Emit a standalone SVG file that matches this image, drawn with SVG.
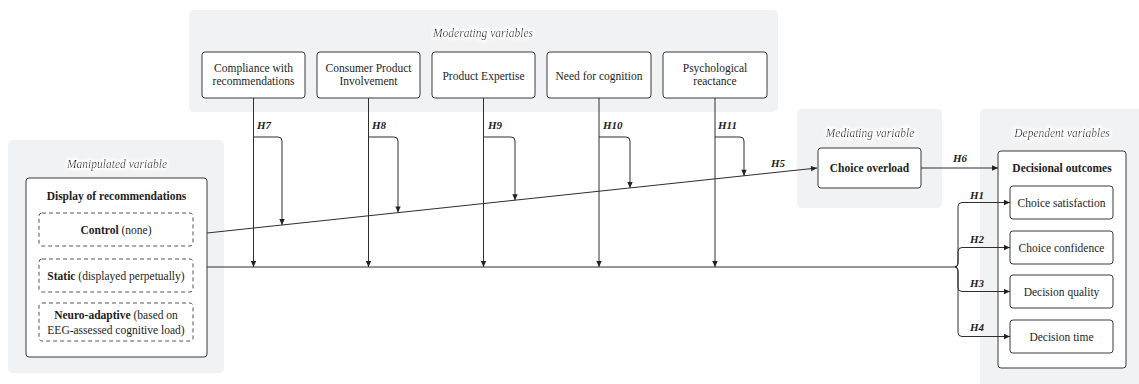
<svg xmlns="http://www.w3.org/2000/svg" width="1139" height="384" viewBox="0 0 1139 384" font-family="'Liberation Serif', 'Times New Roman', serif">
  <defs>
    <style>
      .panel { fill: #f1f2f4; }
      .box { fill: #fff; stroke: #3a3a3a; stroke-width: 1; }
      .dash { fill: #fff; stroke: #555; stroke-width: 1; stroke-dasharray: 4 3; }
      .t { font-family: 'Liberation Serif', 'Times New Roman', serif; font-size: 11.5px; fill: #1e1e1e; text-anchor: middle; }
      .b { font-weight: bold; }
      .cap { font-family: 'Liberation Serif', 'Times New Roman', serif; font-size: 11.5px; font-style: italic; fill: #1e1e1e; text-anchor: middle; }
      .h { font-family: 'Liberation Serif', 'Times New Roman', serif; font-size: 11px; font-style: italic; font-weight: bold; fill: #1e1e1e; }
      .edge { fill: none; stroke: #2e2e2e; stroke-width: 1; }
    </style>
    <marker id="arr" viewBox="0 0 10 10" refX="10" refY="5" markerWidth="7" markerHeight="6" orient="auto" markerUnits="userSpaceOnUse">
      <path d="M0,0.5 L10,5 L0,9.5 z" fill="#222"/>
    </marker>
    <filter id="halo" x="-10%" y="-50%" width="120%" height="200%">
      <feMorphology in="SourceAlpha" operator="dilate" radius="1.5" result="d"/>
      <feGaussianBlur in="d" stdDeviation="1.6" result="bl"/>
      <feFlood flood-color="#fff" result="w"/>
      <feComposite in="w" in2="bl" operator="in" result="hl"/>
      <feMerge><feMergeNode in="hl"/><feMergeNode in="SourceGraphic"/></feMerge>
    </filter>
  </defs>

  <!-- group backgrounds -->
  <g id="panels">
    <rect class="panel" x="189" y="10" width="589" height="102" rx="5"/>
    <rect class="panel" x="8" y="140" width="216" height="233" rx="5"/>
    <rect class="panel" x="797" y="109" width="145" height="99" rx="5"/>
    <rect class="panel" x="980" y="109" width="170" height="290" rx="5"/>
    <text class="cap" x="483" y="37" filter="url(#halo)">Moderating variables</text>
    <text class="cap" x="117" y="168" filter="url(#halo)">Manipulated variable</text>
    <text class="cap" x="870" y="137" filter="url(#halo)">Mediating variable</text>
    <text class="cap" x="1062" y="137" filter="url(#halo)">Dependent variables</text>
  </g>

  <!-- moderators -->
  <g id="compliance">
    <rect class="box" x="202" y="52" width="103" height="46" rx="3"/>
    <text class="t" x="253.5" y="72">Compliance with</text>
    <text class="t" x="253.5" y="85">recommendations</text>
  </g>
  <g id="involvement">
    <rect class="box" x="317" y="52" width="103" height="46" rx="3"/>
    <text class="t" x="368.5" y="72">Consumer Product</text>
    <text class="t" x="368.5" y="85">Involvement</text>
  </g>
  <g id="expertise">
    <rect class="box" x="432" y="52" width="103" height="46" rx="3"/>
    <text class="t" x="483.5" y="79.5">Product Expertise</text>
  </g>
  <g id="cognition">
    <rect class="box" x="547" y="52" width="104" height="46" rx="3"/>
    <text class="t" x="599" y="79.5">Need for cognition</text>
  </g>
  <g id="reactance">
    <rect class="box" x="663" y="52" width="104" height="46" rx="3"/>
    <text class="t" x="715" y="72">Psychological</text>
    <text class="t" x="715" y="85">reactance</text>
  </g>

  <!-- manipulated variable -->
  <g id="display">
    <rect class="box" x="26" y="178" width="181" height="179" rx="3"/>
    <text class="t b" x="116.5" y="200">Display of recommendations</text>
  </g>
  <g id="control">
    <rect class="dash" x="39" y="213" width="154" height="33" rx="3"/>
    <text class="t" x="116" y="234"><tspan class="b">Control</tspan> (none)</text>
  </g>
  <g id="static">
    <rect class="dash" x="39" y="259" width="154" height="33" rx="3"/>
    <text class="t" x="116" y="280"><tspan class="b">Static</tspan> (displayed perpetually)</text>
  </g>
  <g id="adaptive">
    <rect class="dash" x="39" y="303" width="154" height="38" rx="3"/>
    <text class="t" x="116" y="319"><tspan class="b">Neuro-adaptive</tspan> (based on</text>
    <text class="t" x="116" y="334">EEG-assessed cognitive load)</text>
  </g>

  <!-- mediator -->
  <g id="overload">
    <rect class="box" x="818" y="148" width="103" height="40" rx="3"/>
    <text class="t b" x="869.5" y="172">Choice overload</text>
  </g>

  <!-- outcomes -->
  <g id="outcomes">
    <rect class="box" x="998" y="151" width="128" height="217" rx="3"/>
    <text class="t b" x="1062" y="172">Decisional outcomes</text>
  </g>
  <g id="satisfaction">
    <rect class="box" x="1010" y="186" width="103" height="33" rx="3"/>
    <text class="t" x="1061.5" y="206.5">Choice satisfaction</text>
  </g>
  <g id="confidence">
    <rect class="box" x="1010" y="231" width="103" height="33" rx="3"/>
    <text class="t" x="1061.5" y="251.5">Choice confidence</text>
  </g>
  <g id="quality">
    <rect class="box" x="1010" y="275" width="103" height="33" rx="3"/>
    <text class="t" x="1061.5" y="295.5">Decision quality</text>
  </g>
  <g id="time">
    <rect class="box" x="1010" y="320" width="103" height="33" rx="3"/>
    <text class="t" x="1061.5" y="340.5">Decision time</text>
  </g>

  <!-- connectors -->
  <g id="connectors">
    <!-- main paths -->
    <path class="edge" d="M207 233 L817 168" marker-end="url(#arr)"/>
    <path class="edge" d="M207 267 L955 267"/>
    <path class="edge" d="M921 168 L998 168" marker-end="url(#arr)"/>

    <!-- direct effects of moderators -->
    <path class="edge" d="M253.5 98 L253.5 267" marker-end="url(#arr)"/>
    <path class="edge" d="M368.5 98 L368.5 267" marker-end="url(#arr)"/>
    <path class="edge" d="M483.5 98 L483.5 267" marker-end="url(#arr)"/>
    <path class="edge" d="M599 98 L599 267" marker-end="url(#arr)"/>
    <path class="edge" d="M715 98 L715 267" marker-end="url(#arr)"/>

    <!-- moderation of the mediated path -->
    <path class="edge" d="M253.5 137 L278 137 Q282 137 282 141 L282 225" marker-end="url(#arr)"/>
    <path class="edge" d="M368.5 137 L394 137 Q398 137 398 141 L398 212.6" marker-end="url(#arr)"/>
    <path class="edge" d="M483.5 137 L511 137 Q515 137 515 141 L515 200.2" marker-end="url(#arr)"/>
    <path class="edge" d="M599 137 L626 137 Q630 137 630 141 L630 187.9" marker-end="url(#arr)"/>
    <path class="edge" d="M715 137 L740 137 Q744 137 744 141 L744 175.8" marker-end="url(#arr)"/>

    <!-- fan-out to outcomes -->
    <path class="edge" d="M955 267 Q958 267 958 263 L958 206.5 Q958 202.5 962 202.5 L1010 202.5" marker-end="url(#arr)"/>
    <path class="edge" d="M955 267 Q958 267 958 263 L958 251.5 Q958 247.5 962 247.5 L1010 247.5" marker-end="url(#arr)"/>
    <path class="edge" d="M955 267 Q958 267 958 271 L958 287.5 Q958 291.5 962 291.5 L1010 291.5" marker-end="url(#arr)"/>
    <path class="edge" d="M955 267 Q958 267 958 271 L958 332.5 Q958 336.5 962 336.5 L1010 336.5" marker-end="url(#arr)"/>

    <!-- hypothesis labels -->
    <text class="h" x="257" y="129">H7</text>
    <text class="h" x="372" y="129">H8</text>
    <text class="h" x="488" y="129">H9</text>
    <text class="h" x="603" y="129">H10</text>
    <text class="h" x="718" y="129">H11</text>
    <text class="h" x="778" y="167" text-anchor="middle">H5</text>
    <text class="h" x="960" y="162" text-anchor="middle">H6</text>
    <text class="h" x="977" y="199" text-anchor="middle">H1</text>
    <text class="h" x="977" y="243" text-anchor="middle">H2</text>
    <text class="h" x="977" y="287" text-anchor="middle">H3</text>
    <text class="h" x="977" y="331" text-anchor="middle">H4</text>
  </g>
</svg>
